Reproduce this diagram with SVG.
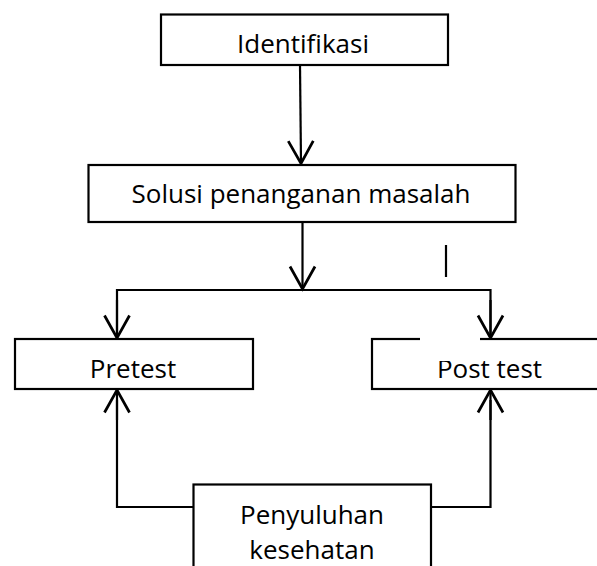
<svg xmlns="http://www.w3.org/2000/svg" width="597" height="566" viewBox="0 0 597 566">
<style>
.box{fill:#fff;stroke:#000;stroke-width:2.2}
.lbl{font-family:"Open Sans","Noto Sans",sans-serif;font-size:26px;fill:#000;text-anchor:middle}
.con{fill:none;stroke:#000;stroke-width:2.2}
</style>
<defs>
<marker id="arr" markerUnits="userSpaceOnUse" markerWidth="30" markerHeight="30" viewBox="-20 -12 22 24" refX="0" refY="0" orient="auto">
<path d="M-18,-10 L0,0 L-18,10" fill="none" stroke="#000" stroke-width="2.2" stroke-linejoin="miter"/>
</marker>
</defs>
<rect width="597" height="566" fill="#fff"/>
<g id="connectors">
<line class="con" x1="300" y1="65" x2="301" y2="163.5" marker-end="url(#arr)"/>
<line class="con" x1="302.5" y1="222" x2="302.5" y2="289" marker-end="url(#arr)"/>
<polyline class="con" points="117,338 117,290 490.5,290 490.5,338"/>
<line class="con" x1="117" y1="300" x2="117" y2="338" marker-end="url(#arr)"/>
<line class="con" x1="490.5" y1="300" x2="490.5" y2="338" marker-end="url(#arr)"/>
<polyline class="con" points="193,507 117,507 117,400"/>
<line class="con" x1="117" y1="420" x2="117" y2="390" marker-end="url(#arr)"/>
<polyline class="con" points="431,507 490.5,507 490.5,400"/>
<line class="con" x1="490.5" y1="420" x2="490.5" y2="390" marker-end="url(#arr)"/>
<line class="con" x1="446" y1="245" x2="446" y2="277"/>
</g>
<g id="identifikasi">
<rect class="box" x="161" y="14.5" width="287" height="50.5"/>
<text class="lbl" x="303" y="53.3">Identifikasi</text>
</g>
<g id="solusi">
<rect class="box" x="88.5" y="165" width="427" height="57"/>
<text class="lbl" x="301" y="203.3">Solusi penanganan masalah</text>
</g>
<g id="pretest">
<rect class="box" x="15" y="339" width="238" height="50"/>
<text class="lbl" x="133" y="378">Pretest</text>
</g>
<g id="posttest">
<rect class="box" x="372" y="339" width="240" height="50"/>
<text class="lbl" x="489.5" y="378">Post test</text>
<rect x="420" y="330" width="60" height="31" fill="#fff"/>
</g>
<g id="penyuluhan">
<rect class="box" x="193.5" y="484.5" width="237.5" height="100"/>
<text class="lbl" x="312" y="523.5">Penyuluhan</text>
<text class="lbl" x="312" y="558.5">kesehatan</text>
</g>
</svg>
